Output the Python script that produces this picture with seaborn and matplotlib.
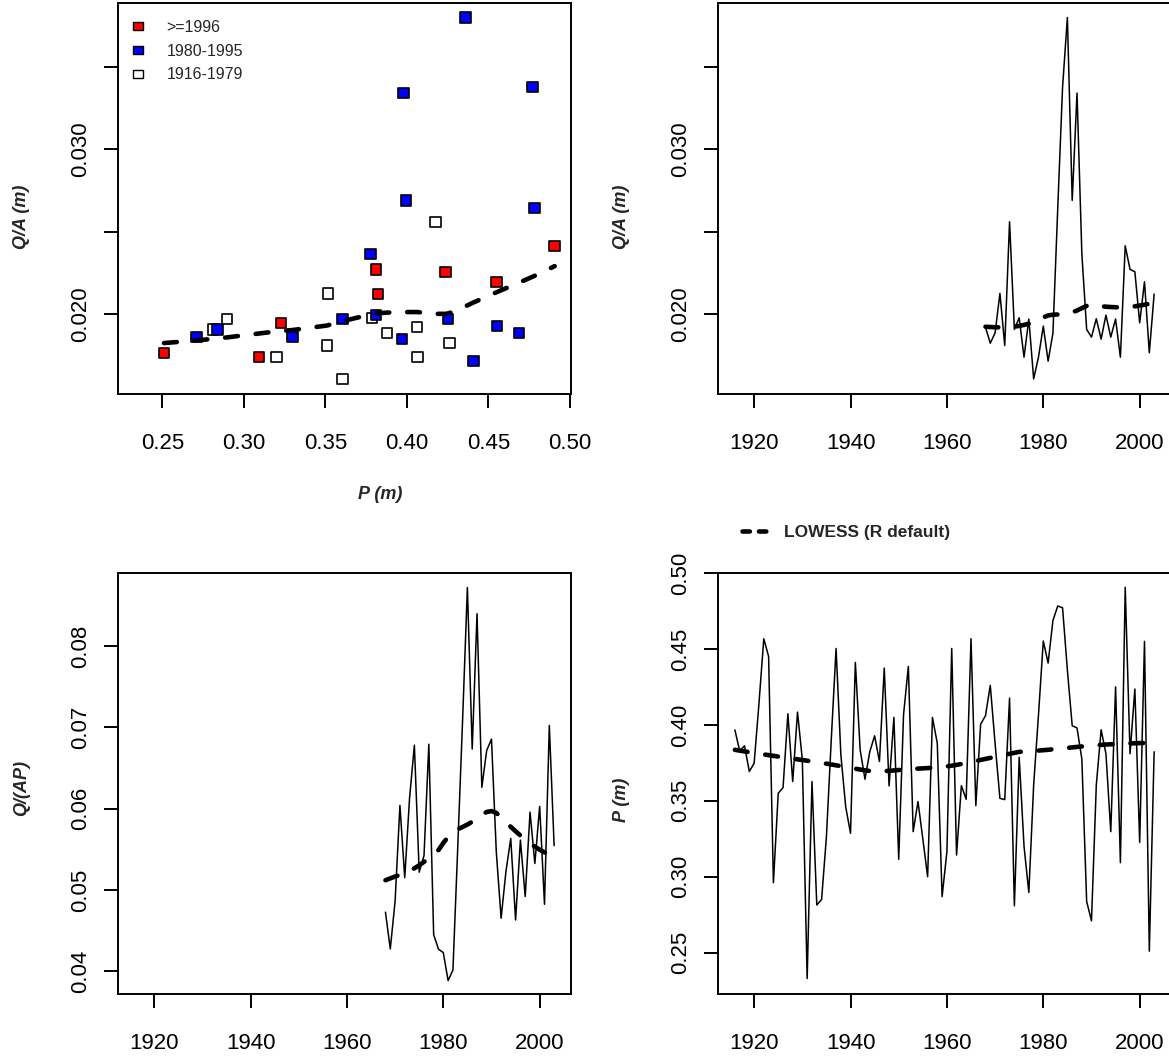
import numpy as np
import pandas as pd
import matplotlib
matplotlib.use("Agg")
import matplotlib.pyplot as plt
import seaborn as sns
from matplotlib.lines import Line2D

# ---------------- data ----------------
years_p = list(range(1916, 2004))
precip = [0.3967, 0.3829, 0.3862, 0.3693, 0.3748, 0.4140, 0.4567, 0.4451, 0.2961, 0.3550,
          0.3587, 0.4073, 0.3627, 0.4084, 0.3770, 0.2330, 0.3627, 0.2814, 0.2851, 0.3264,
          0.3900, 0.4503, 0.3800, 0.3460, 0.3286, 0.4411, 0.3835, 0.3642, 0.3824, 0.3928,
          0.3759, 0.4374, 0.3598, 0.4049, 0.3115, 0.4066, 0.4385, 0.3297, 0.3495, 0.3250,
          0.3000, 0.4049, 0.3879, 0.2869, 0.3165, 0.4503, 0.3143, 0.3600, 0.3510, 0.4567,
          0.3468, 0.4005, 0.4060, 0.4260, 0.3876, 0.3516, 0.3508, 0.4176, 0.2809, 0.3786,
          0.3201, 0.2897, 0.3604, 0.4064, 0.4552, 0.4407, 0.4687, 0.4783, 0.4771, 0.4360,
          0.3994, 0.3980, 0.3776, 0.2837, 0.2710, 0.3604, 0.3968, 0.3810, 0.3297, 0.4250,
          0.3093, 0.4906, 0.3810, 0.4236, 0.3226, 0.4550, 0.2510, 0.3823]

years_q = list(range(1968, 2004))
runoff = [0.01919, 0.01821, 0.01884, 0.02124, 0.01807, 0.02560, 0.01905, 0.01976, 0.01736, 0.01968,
          0.01604, 0.01736, 0.01925, 0.01712, 0.01882, 0.02643, 0.03379, 0.03803, 0.02690, 0.03343,
          0.02365, 0.01905, 0.01858, 0.01970, 0.01846, 0.01992, 0.01858, 0.01968, 0.01736, 0.02414,
          0.02270, 0.02256, 0.01945, 0.02195, 0.01763, 0.02120]
runoff_ratio = [0.04727, 0.04275, 0.04861, 0.06041, 0.05151, 0.06130, 0.06782, 0.05219, 0.05423, 0.06793,
                0.04451, 0.04272, 0.04229, 0.03885, 0.04015, 0.05526, 0.07082, 0.08722, 0.06735, 0.08399,
                0.06263, 0.06715, 0.06856, 0.05466, 0.04652, 0.05228, 0.05635, 0.04631, 0.05613, 0.04920,
                0.05958, 0.05326, 0.06029, 0.04824, 0.07024, 0.05545]

period_labels = [">=1996", "1980-1995", "1916-1979"]
period_colors = ["red", "blue", "white"]

p_ticks = [0.25, 0.30, 0.35, 0.40, 0.45, 0.50]
p_tick_labels = ["0.25", "0.30", "0.35", "0.40", "0.45", "0.50"]
qa_ticks = [0.020, 0.025, 0.030, 0.035]
qa_tick_labels = ["0.020", "", "0.030", ""]
qap_ticks = [0.04, 0.05, 0.06, 0.07, 0.08]
qap_tick_labels = ["0.04", "0.05", "0.06", "0.07", "0.08"]
year_ticks = [1920, 1940, 1960, 1980, 2000]
year_tick_labels = ["1920", "1940", "1960", "1980", "2000"]
legend_line_label = "LOWESS (R default)"


# ---------------- R lowess (clowess) ----------------
def r_lowess(x, y, f=2 / 3, nsteps=3):
    x = np.asarray(x, float)
    y = np.asarray(y, float)
    o = np.argsort(x, kind="stable")
    x = x[o]
    y = y[o]
    n = len(x)
    delta = 0.01 * (x[-1] - x[0])
    ns = max(2, min(n, int(f * n + 1e-7)))
    ys = np.zeros(n)
    rw = np.ones(n)
    rng = x[-1] - x[0]

    def lowest(xs, nleft, nright, userw):
        h = max(xs - x[nleft], x[nright] - xs)
        h9 = 0.999 * h
        h1 = 0.001 * h
        w = np.zeros(n)
        a = 0.0
        j = nleft
        while j < n:
            r = abs(x[j] - xs)
            if r <= h9:
                if r <= h1:
                    w[j] = 1.0
                else:
                    w[j] = (1 - (r / h) ** 3) ** 3
                if userw:
                    w[j] *= rw[j]
                a += w[j]
            elif x[j] > xs:
                break
            j += 1
        nrt = j - 1
        if a <= 0:
            return None
        idx = slice(nleft, nrt + 1)
        w[idx] /= a
        if h > 0:
            a2 = np.sum(w[idx] * x[idx])
            b = xs - a2
            c = np.sum(w[idx] * (x[idx] - a2) ** 2)
            if np.sqrt(c) > 0.001 * rng:
                b /= c
                w[idx] *= (b * (x[idx] - a2) + 1.0)
        return np.sum(w[idx] * y[idx])

    it = 1
    while it <= nsteps + 1:
        nleft = 0
        nright = ns - 1
        last = -1
        i = 0
        while True:
            if nright < n - 1:
                d1 = x[i] - x[nleft]
                d2 = x[nright + 1] - x[i]
                if d1 > d2:
                    nleft += 1
                    nright += 1
                    continue
            val = lowest(x[i], nleft, nright, it > 1)
            ys[i] = y[i] if val is None else val
            if last < i - 1:
                denom = x[i] - x[last]
                for j in range(last + 1, i):
                    alpha = (x[j] - x[last]) / denom
                    ys[j] = alpha * ys[i] + (1 - alpha) * ys[last]
            last = i
            cut = x[last] + delta
            i = last + 1
            while i < n:
                if x[i] > cut:
                    break
                if x[i] == x[last]:
                    ys[i] = ys[last]
                    last = i
                i += 1
            i = max(last + 1, i - 1)
            if last >= n - 1:
                break
        res = y - ys
        sc = np.sum(np.abs(res)) / n
        if it > nsteps:
            break
        srt = np.sort(np.abs(res))
        m1 = n // 2
        if n % 2 == 0:
            m2 = n - m1 - 1
            cmad = 3.0 * (srt[m1] + srt[m2])
        else:
            cmad = 6.0 * srt[m1]
        if cmad < 1e-7 * sc:
            break
        c9 = 0.999 * cmad
        c1 = 0.001 * cmad
        r = np.abs(res)
        rw = np.where(r <= c1, 1.0, np.where(r <= c9, (1 - (r / cmad) ** 2) ** 2, 0.0))
        it += 1
    return x, ys


# ---------------- tables ----------------
df_p = pd.DataFrame({"year": years_p, "P": precip})
df_q = pd.DataFrame({"year": years_q, "QA": runoff, "QAP": runoff_ratio})
df_q = df_q.merge(df_p, on="year")


def period_of(yr):
    if yr >= 1996:
        return period_labels[0]
    if yr >= 1980:
        return period_labels[1]
    return period_labels[2]


df_q["period"] = df_q["year"].apply(period_of)
palette = dict(zip(period_labels, period_colors))

# ---------------- style ----------------
sns.set_theme(style="white")
plt.rcParams["font.family"] = ["Liberation Sans", "DejaVu Sans"]
plt.rcParams["axes.linewidth"] = 1.4

W, H = 1169, 1059
fig = plt.figure(figsize=(W / 100, H / 100), dpi=100)


def add_ax(x0, y0, x1, y1):
    return fig.add_axes([x0 / W, 1 - y1 / H, (x1 - x0) / W, (y1 - y0) / H])


ax1 = add_ax(118, 3, 571, 394)
ax2 = add_ax(718, 3, 1171, 394)
ax3 = add_ax(118, 573, 571, 994)
ax4 = add_ax(718, 573, 1171, 994)

TICK_FS = 16
DASH = (0, (2.8, 3.9))
LW_LO = 3.3
LW_TS = 1.1


def style_axes(ax, xticks, xlabels, yticks, ylabels, xlim, ylim):
    ax.set_xlim(*xlim)
    ax.set_ylim(*ylim)
    ax.set_xticks(xticks)
    ax.set_xticklabels(xlabels)
    ax.set_yticks(yticks)
    ax.set_yticklabels(ylabels, rotation=90, va="center")
    ax.tick_params(axis="both", direction="out", length=10, width=1.4, color="black",
                   labelsize=TICK_FS, labelcolor="black", left=True, bottom=True)
    ax.tick_params(axis="x", pad=18)
    ax.tick_params(axis="y", pad=9.5)
    for sp in ax.spines.values():
        sp.set_visible(True)
        sp.set_color("black")
        sp.set_linewidth(1.4)
    ax.set_xlabel("")
    ax.set_ylabel("")
    ax.grid(False)


year_lim = (1912.5, 2006.5)
qa_lim = (0.01512, 0.03891)

# Panel 1: scatter Q/A vs P
sns.scatterplot(data=df_q, x="P", y="QA", hue="period", palette=palette, marker="s",
                s=56, edgecolor="black", linewidth=1.2, legend=False, ax=ax1, zorder=3)
lx, ly = r_lowess(df_q["P"], df_q["QA"])
sns.lineplot(x=lx, y=ly, ax=ax1, color="black", lw=LW_LO, ls=DASH, dash_capstyle="round",
             estimator=None, sort=False, zorder=4)
style_axes(ax1, p_ticks, p_tick_labels, qa_ticks, qa_tick_labels, (0.2228, 0.5006), qa_lim)
rect = [(-1.4, -1.0), (1.4, -1.0), (1.4, 1.0), (-1.4, 1.0), (-1.4, -1.0)]
handles = [Line2D([], [], ls="none", marker=rect, markersize=7.5, markerfacecolor=c,
                  markeredgecolor="black", markeredgewidth=1.0) for c in period_colors]
ax1.legend(handles, period_labels, loc="upper left", bbox_to_anchor=(0.026, 0.957),
           frameon=False, fontsize=11.5, handlelength=1.0, handletextpad=1.3,
           labelspacing=0.55, borderpad=0, borderaxespad=0)

# Panel 2: Q/A time series
sns.lineplot(data=df_q, x="year", y="QA", ax=ax2, color="black", lw=LW_TS, estimator=None)
lx, ly = r_lowess(df_q["year"], df_q["QA"])
sns.lineplot(x=lx, y=ly, ax=ax2, color="black", lw=LW_LO, ls=DASH, dash_capstyle="round",
             estimator=None, sort=False)
style_axes(ax2, year_ticks, year_tick_labels, qa_ticks, qa_tick_labels, year_lim, qa_lim)

# Panel 3: Q/(AP) time series
sns.lineplot(data=df_q, x="year", y="QAP", ax=ax3, color="black", lw=LW_TS, estimator=None)
lx, ly = r_lowess(df_q["year"], df_q["QAP"])
sns.lineplot(x=lx, y=ly, ax=ax3, color="black", lw=LW_LO, ls=DASH, dash_capstyle="round",
             estimator=None, sort=False)
style_axes(ax3, year_ticks, year_tick_labels, qap_ticks, qap_tick_labels, year_lim, (0.0372, 0.0890))

# Panel 4: P time series
sns.lineplot(data=df_p, x="year", y="P", ax=ax4, color="black", lw=LW_TS, estimator=None)
lx, ly = r_lowess(df_p["year"], df_p["P"])
sns.lineplot(x=lx, y=ly, ax=ax4, color="black", lw=LW_LO, ls=DASH, dash_capstyle="round",
             estimator=None, sort=False)
style_axes(ax4, year_ticks, year_tick_labels, p_ticks, p_tick_labels, year_lim, (0.2228, 0.5000))

# axis titles (bold italic, R style placement)
lab_kw = dict(fontsize=13, fontweight="bold", fontstyle="italic", ha="center", va="center")
fig.text(22 / W, 1 - 217 / H, "Q/A (m)", rotation=90, **lab_kw)
fig.text(622 / W, 1 - 217 / H, "Q/A (m)", rotation=90, **lab_kw)
fig.text(380 / W, 1 - 495 / H, "P (m)", **lab_kw)
fig.text(22 / W, 1 - 788 / H, "Q/(AP)", rotation=90, **lab_kw)
fig.text(622 / W, 1 - 800 / H, "P (m)", rotation=90, **lab_kw)

# LOWESS legend
lo_handle = Line2D([], [], color="black", lw=LW_LO, ls=(0, (1.6, 2.0)), dash_capstyle="round")
fig.legend([lo_handle], [legend_line_label], loc="center left",
           bbox_to_anchor=(742 / W, 1 - 532 / H), frameon=False,
           prop={"weight": "bold", "size": 12.5}, handlelength=1.7, handletextpad=0.7,
           borderpad=0, borderaxespad=0)

fig.savefig("out.png", dpi=100)
